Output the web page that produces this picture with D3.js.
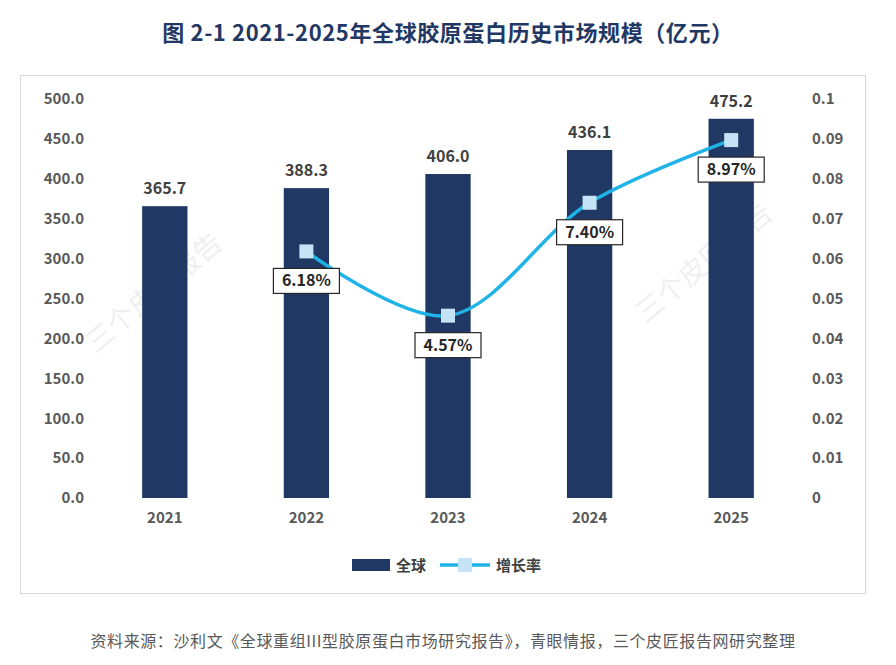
<!DOCTYPE html>
<html><head><meta charset="utf-8">
<script src="https://cdn.jsdelivr.net/npm/d3@7"></script>
<style>body{margin:0;background:#fff;font-family:"Noto Sans CJK SC","Noto Sans",sans-serif}</style>
</head><body><svg id="c" width="896" height="665"></svg>
<script>
const years=["2021","2022","2023","2024","2025"];
const market=[365.7,388.3,406.0,436.1,475.2];
const growth=[null,0.0618,0.0457,0.0740,0.0897];
const leftTicks=[0,50,100,150,200,250,300,350,400,450,500];
const rightTicks=[0,0.01,0.02,0.03,0.04,0.05,0.06,0.07,0.08,0.09,0.1];

const svg=d3.select("#c");
const ff='"Noto Sans CJK SC","Noto Sans",sans-serif';
svg.append("text").attr("x",448).attr("y",41).attr("text-anchor","middle").attr("font-size",22).attr("letter-spacing",0.6).attr("font-weight","bold").attr("fill","#1f3864").attr("font-family",ff).text("图  2-1 2021-2025年全球胶原蛋白历史市场规模（亿元）");
svg.append("rect").attr("x",20.5).attr("y",75.5).attr("width",845).attr("height",518).attr("fill","none").attr("stroke","#d9d9d9");

const x=d3.scaleBand().domain(years).range([94,802]).paddingInner(0.68).paddingOuter(0.34);
const y=d3.scaleLinear().domain([0,500]).range([498,99]);
const y2=d3.scaleLinear().domain([0,0.1]).range([498,99]);

const la=svg.append("g").attr("transform","translate(94,0)").call(d3.axisLeft(y).tickValues(leftTicks).tickFormat(d3.format(".1f")).tickSize(0).tickPadding(10));
const ra=svg.append("g").attr("transform","translate(802,0)").call(d3.axisRight(y2).tickValues(rightTicks).tickFormat(d=>d===0?"0":d3.format(".2~f")(d)).tickSize(0).tickPadding(10));
const ba=svg.append("g").attr("transform","translate(0,498)").call(d3.axisBottom(x).tickSize(0).tickPadding(14));
[la,ra,ba].forEach(a=>{a.select(".domain").remove();a.selectAll("text").attr("font-size",15).attr("font-weight","bold").attr("fill","#595959").attr("font-family",ff);});

[[160,300],[710,270]].forEach(([a,b])=>svg.append("text").attr("transform",`translate(${a},${b}) rotate(-40)`).attr("text-anchor","middle").attr("font-size",28).attr("fill","#000").attr("opacity",0.06).attr("font-family",ff).text("三个皮匠报告"));

svg.selectAll(".bar").data(market).join("rect").attr("x",(d,i)=>x(years[i])).attr("width",x.bandwidth()).attr("y",d=>y(d)).attr("height",d=>498-y(d)).attr("fill","#203864");
svg.selectAll(".bl").data(market).join("text").attr("x",(d,i)=>x(years[i])+x.bandwidth()/2).attr("y",d=>y(d)-12).attr("text-anchor","middle").attr("font-size",16).attr("font-weight","bold").attr("fill","#404040").attr("font-family",ff).text(d=>d.toFixed(1));

const pts=growth.map((g,i)=>g==null?null:[x(years[i])+x.bandwidth()/2,y2(g)]).filter(Boolean);
svg.append("path").attr("d",d3.line().curve(d3.curveCatmullRom.alpha(0.5))(pts)).attr("fill","none").attr("stroke","#1fb3e8").attr("stroke-width",3.5);
pts.forEach(p=>svg.append("rect").attr("x",p[0]-7).attr("y",p[1]-7).attr("width",14).attr("height",14).attr("fill","#c5e3f6"));
const gv=growth.filter(g=>g!=null);
pts.forEach((p,i)=>{
 const g=svg.append("g");
 g.append("rect").attr("x",p[0]-33).attr("y",p[1]+17).attr("width",66).attr("height",25).attr("fill","#fff").attr("stroke","#262626").attr("stroke-width",1.2);
 g.append("text").attr("x",p[0]).attr("y",p[1]+35).attr("text-anchor","middle").attr("font-size",16).attr("font-weight","bold").attr("fill","#262626").attr("font-family",ff).text((gv[i]*100).toFixed(2)+"%");
});

svg.append("rect").attr("x",352).attr("y",559).attr("width",38).attr("height",12).attr("fill","#203864");
svg.append("text").attr("x",396).attr("y",571).attr("font-size",15).attr("font-weight","bold").attr("fill","#404040").attr("font-family",ff).text("全球");
svg.append("line").attr("x1",440).attr("x2",490).attr("y1",565).attr("y2",565).attr("stroke","#1fb3e8").attr("stroke-width",3.5);
svg.append("rect").attr("x",458).attr("y",558).attr("width",14).attr("height",14).attr("fill","#c5e3f6");
svg.append("text").attr("x",496).attr("y",571).attr("font-size",15).attr("font-weight","bold").attr("fill","#404040").attr("font-family",ff).text("增长率");

svg.append("text").attr("x",443).attr("y",647).attr("text-anchor","middle").attr("font-size",16).attr("letter-spacing",0.6).attr("fill","#595959").attr("font-family",ff).text("资料来源：沙利文《全球重组III型胶原蛋白市场研究报告》，青眼情报，三个皮匠报告网研究整理");
</script></body></html>
